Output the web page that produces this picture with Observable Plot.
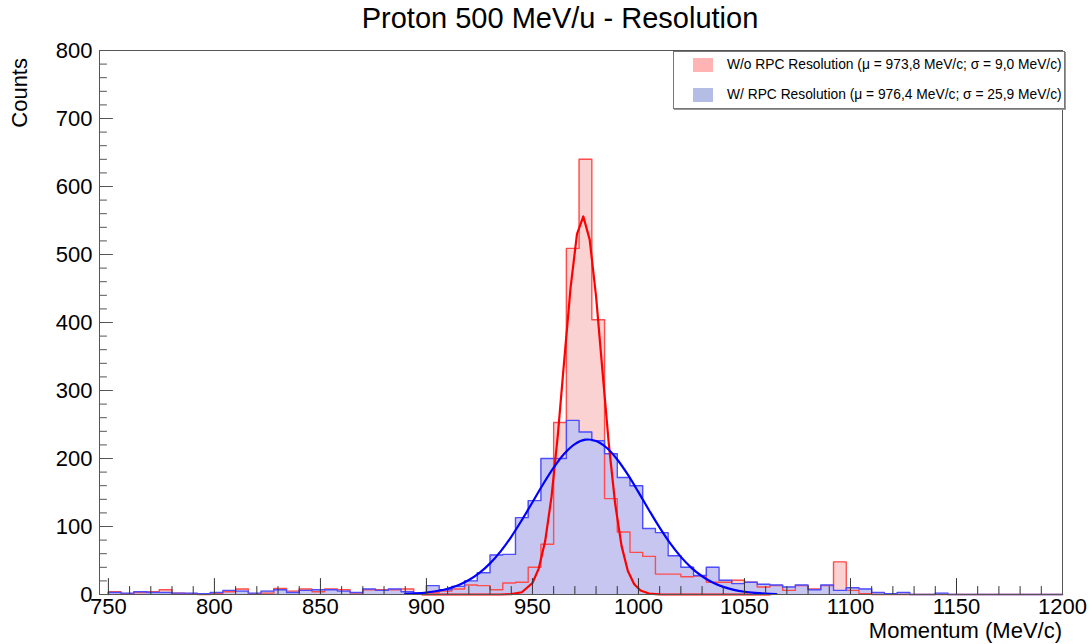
<!DOCTYPE html>
<html>
<head>
<meta charset="utf-8">
<script src="https://cdn.jsdelivr.net/npm/d3@7"></script>
<script src="https://cdn.jsdelivr.net/npm/@observablehq/plot@0.6"></script>
<style>
  body { margin: 0; background: #fff; font-family: "Liberation Sans", Arial, Helvetica, sans-serif; }
  #wrap { position: relative; width: 1090px; height: 644px; overflow: hidden; background: #fff; }
  #title { height: 36px; line-height: 36px; text-align: center; font-size: 29px; color: #000; padding-left: 30px; box-sizing: border-box; width: 1090px; }
  #chart { height: 608px; }
  #ylab { position: absolute; left: 8px; top: 138px; width: 80px; height: 24px; line-height: 24px; font-size: 22px; text-align: right; transform-origin: 0 0; transform: rotate(-90deg); color: #000; }
  #xlab { position: absolute; right: 28px; top: 621px; height: 20px; line-height: 20px; font-size: 22px; color: #000; }
  #legend { position: absolute; left: 673px; top: 51px; width: 392px; height: 58px; border: 1px solid #777; box-shadow: 1px 1px 0 #999; background: #fff; box-sizing: border-box; }
  .row { position: absolute; left: 0; height: 20px; line-height: 20px; font-size: 13.8px; color: #000; white-space: nowrap; }
  .sw { position: absolute; left: 19px; top: 3px; width: 20px; height: 14px; }
  .tx { position: absolute; left: 53px; top: 0; }
</style>
</head>
<body>
<div id="wrap">
  <div id="title">Proton 500 MeV/u - Resolution</div>
  <div id="chart"></div>
  <div id="ylab">Counts</div>
  <div id="xlab">Momentum (MeV/c)</div>
  <div id="legend">
    <div class="row" style="top:3px"><span class="sw" style="background:#ffb3b3"></span><span class="tx" id="leg1"></span></div>
    <div class="row" style="top:33px"><span class="sw" style="background:#b3bde6"></span><span class="tx" id="leg2"></span></div>
  </div>
</div>
<script>
// ---- data ----
const binStart = 750;
const binWidth = 6;
const redCounts = [
  4, 1, 3, 4, 7, 2, 1, 0, 1, 4,
  8, 1, 2, 9, 5, 8, 4, 8, 7, 2,
  7, 7, 7, 8, 1, 3, 5, 8, 14, 13,
  7, 17, 18, 40, 74, 253, 509, 640, 404, 141,
  92, 62, 56, 30, 30, 26, 27, 18, 18, 21,
  18, 11, 13, 6, 13, 8, 13, 48, 6, 1,
  0, 0, 0, 0, 0, 0, 0, 0, 0, 0,
  0, 0, 0, 0, 0
];
const blueCounts = [
  3, 2, 4, 3, 3, 2, 2, 1, 3, 6,
  5, 2, 5, 7, 3, 6, 7, 7, 5, 3,
  8, 6, 8, 4, 2, 13, 7, 12, 20, 32,
  58, 59, 113, 138, 200, 200, 256, 239, 226, 207,
  172, 160, 97, 91, 57, 40, 28, 40, 21, 16,
  18, 15, 14, 11, 14, 7, 14, 6, 10, 8,
  3, 1, 3, 0, 0, 2, 0, 0, 0, 0,
  0, 0, 0, 0, 0
];
const redFitX = [898, 935, 940, 945, 950, 953, 956, 959, 962, 965, 968, 971, 974, 977, 980, 983, 986, 989, 992, 995, 998, 1001, 1005, 1010, 1062];
const redFitY = [0, 0, 0.5, 3.3, 16.9, 38.5, 78.6, 143.8, 235.5, 344.7, 451.8, 529.8, 556, 521.9, 438.6, 329.7, 221.8, 133.6, 71.9, 34.7, 15, 5.8, 1.4, 0.2, 0];
const blueFitX = [890, 895, 900, 905, 910, 915, 920, 925, 930, 935, 940, 945, 950, 955, 960, 965, 970, 975, 980, 985, 990, 995, 1000, 1005, 1010, 1015, 1020, 1025, 1030, 1035, 1040, 1045, 1050, 1055, 1060, 1065];
const blueFitY = [0.9, 1.6, 2.9, 5.1, 8.5, 13.7, 21.3, 31.8, 45.8, 63.5, 84.9, 109.4, 135.6, 162.1, 186.6, 207.0, 221.2, 227.7, 225.8, 215.8, 198.6, 176.2, 150.5, 123.9, 98.3, 75.1, 55.3, 39.2, 26.8, 17.6, 11.2, 6.8, 4.0, 2.3, 1.2, 0.7];
const xTickLabels = [750, 800, 850, 900, 950, 1000, 1050, 1100, 1150, 1200];
const yTickLabels = [0, 100, 200, 300, 400, 500, 600, 700, 800];
const legendLabels = [
  "W/o RPC Resolution (\u03bc = 973,8 MeV/c; \u03c3 = 9,0 MeV/c)",
  "W/ RPC Resolution (\u03bc = 976,4 MeV/c; \u03c3 = 25,9 MeV/c)"
];

document.getElementById("leg1").textContent = legendLabels[0];
document.getElementById("leg2").textContent = legendLabels[1];

// ---- build tables ----
const nBins = redCounts.length;
const edges = d3.range(nBins + 1).map(i => binStart + i * binWidth);
function stepTable(counts) {
  const pts = [{x: edges[0], y: 0}];
  counts.forEach((c, i) => pts.push({x: edges[i], y: c}));
  pts.push({x: edges[nBins], y: counts[nBins - 1]});
  pts.push({x: edges[nBins], y: 0});
  return pts;
}
const redSteps = stepTable(redCounts);
const blueSteps = stepTable(blueCounts);
const redFit = redFitX.map((x, i) => ({x, y: redFitY[i]}));
const blueFit = blueFitX.map((x, i) => ({x, y: blueFitY[i]}));

const xMinor = d3.range(750, 1201, 10).filter(v => v % 50 !== 0);
const yMinor = d3.range(0, 801, 20).filter(v => v % 100 !== 0);

const tickShape = {draw(context, l) { context.moveTo(0, 0); context.lineTo(0, -l); }};

const chart = Plot.plot({
  width: 1090,
  height: 608,
  marginLeft: 99,
  marginRight: 28,
  marginTop: 14,
  marginBottom: 50,
  style: {fontFamily: '"Liberation Sans", Arial, Helvetica, sans-serif', fontSize: "22px", color: "#000", background: "transparent"},
  x: {domain: [745.8, 1200], label: null},
  y: {domain: [0, 800], label: null},
  marks: [
    Plot.areaY(redSteps, {x: "x", y: "y", curve: "step-after", fill: "#fad2d2"}),
    Plot.areaY(blueSteps, {x: "x", y: "y", curve: "step-after", fill: "#c6c6f0"}),
    Plot.line(redSteps, {x: "x", y: "y", curve: "step-after", stroke: "#ff4d4d", strokeWidth: 1.4}),
    Plot.line(blueSteps, {x: "x", y: "y", curve: "step-after", stroke: "#4d4dff", strokeWidth: 1.4}),
    Plot.line(redFit, {x: "x", y: "y", stroke: "#ff0000", strokeWidth: 2.2}),
    Plot.line(blueFit, {x: "x", y: "y", stroke: "#0000ff", strokeWidth: 2.2, curve: "catmull-rom"}),
    Plot.vector(xTickLabels, {x: d => d, frameAnchor: "bottom", length: 16, anchor: "start", shape: tickShape, stroke: "#333", strokeWidth: 1}),
    Plot.vector(xMinor, {x: d => d, frameAnchor: "bottom", length: 8, anchor: "start", shape: tickShape, stroke: "#333", strokeWidth: 1}),
    Plot.vector(yTickLabels, {y: d => d, frameAnchor: "left", length: 13, rotate: 90, anchor: "start", shape: tickShape, stroke: "#555", strokeWidth: 1}),
    Plot.vector(yMinor, {y: d => d, frameAnchor: "left", length: 7, rotate: 90, anchor: "start", shape: tickShape, stroke: "#555", strokeWidth: 1}),
    Plot.frame({stroke: "#555", strokeWidth: 1}),
    Plot.axisX(xTickLabels, {tickSize: 0, tickPadding: 4, tickFormat: d => String(d), label: null, fontSize: 22}),
    Plot.axisY(yTickLabels, {tickSize: 0, tickPadding: 7, tickFormat: d => String(d), label: null, fontSize: 22})
  ]
});
document.getElementById("chart").appendChild(chart);
</script>
</body>
</html>
